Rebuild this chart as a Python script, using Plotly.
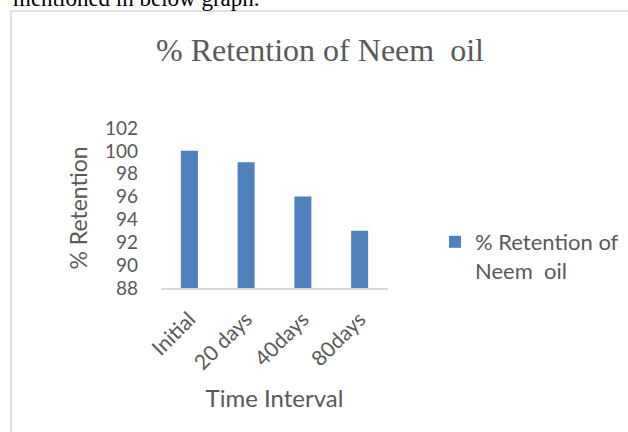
import plotly.graph_objects as go

categories = ["Initial", "20 days", "40days", "80days"]
retention = [100, 99, 96, 93]
series_name = "% Retention of<br>Neem&nbsp; oil"
title_text = "% Retention of Neem&nbsp; oil"
y_ticks = [88, 90, 92, 94, 96, 98, 100, 102]

W, H = 628, 432
L, R, T, B = 161, 240, 128, 144
PW, PH = W - L - R, H - T - B

def px(x):
    return (x - L) / PW

def py(y):
    return 1 - (y - T) / PH

GREY = "#595959"
SANS = "Lato, 'Liberation Sans', sans-serif"
SERIF = "'Liberation Serif', serif"

fig = go.Figure()
fig.add_trace(go.Bar(
    x=categories, y=retention, name=series_name,
    marker=dict(color="#4f81bd", line=dict(width=0)),
    showlegend=True,
))

fig.update_layout(
    width=W, height=H,
    margin=dict(l=L, r=R, t=T, b=B, autoexpand=False),
    paper_bgcolor="white", plot_bgcolor="white",
    bargap=0.7,
    title=dict(text=title_text, x=320 / W, xanchor="center",
               y=1 - 50 / H, yanchor="middle",
               font=dict(family=SERIF, size=32, color=GREY)),
    legend=dict(x=px(435), y=py(221), xanchor="left", yanchor="top",
                valign="top", font=dict(family=SANS, size=22, color=GREY),
                bgcolor="rgba(0,0,0,0)"),
    xaxis=dict(
        type="category", range=[-0.5, 3.5],
        showline=True, linecolor="#d9d9d9", linewidth=1.5,
        showgrid=False, zeroline=False, ticks="",
        tickangle=-45, ticklabelstandoff=9,
        tickfont=dict(family=SANS, size=21, color=GREY),
        title=dict(text="Time Interval", font=dict(family=SANS, size=24, color=GREY),
                   standoff=17),
        automargin=False,
    ),
    yaxis=dict(
        range=[88, 102], tickvals=y_ticks, showline=False, showgrid=False,
        zeroline=False, ticks="", ticklabelstandoff=22,
        tickfont=dict(family=SANS, size=19, color=GREY),
        title=dict(text="% Retention", font=dict(family=SANS, size=23, color=GREY),
                   standoff=10),
        automargin=False,
    ),
    shapes=[dict(type="rect", xref="paper", yref="paper",
                 x0=px(11), x1=px(660), y0=py(460), y1=py(11),
                 line=dict(color="#d9d9d9", width=1.5), fillcolor="rgba(0,0,0,0)",
                 layer="below")],
    annotations=[dict(text="mentioned in below graph.", xref="paper", yref="paper",
                      x=px(11), y=py(-2), xanchor="left", yanchor="middle",
                      showarrow=False,
                      font=dict(family=SERIF, size=23, color="black"))],
)

fig.write_html("out.html", config={"displayModeBar": False},
               post_script="document.body.style.margin='0';document.body.style.overflow='hidden';")
